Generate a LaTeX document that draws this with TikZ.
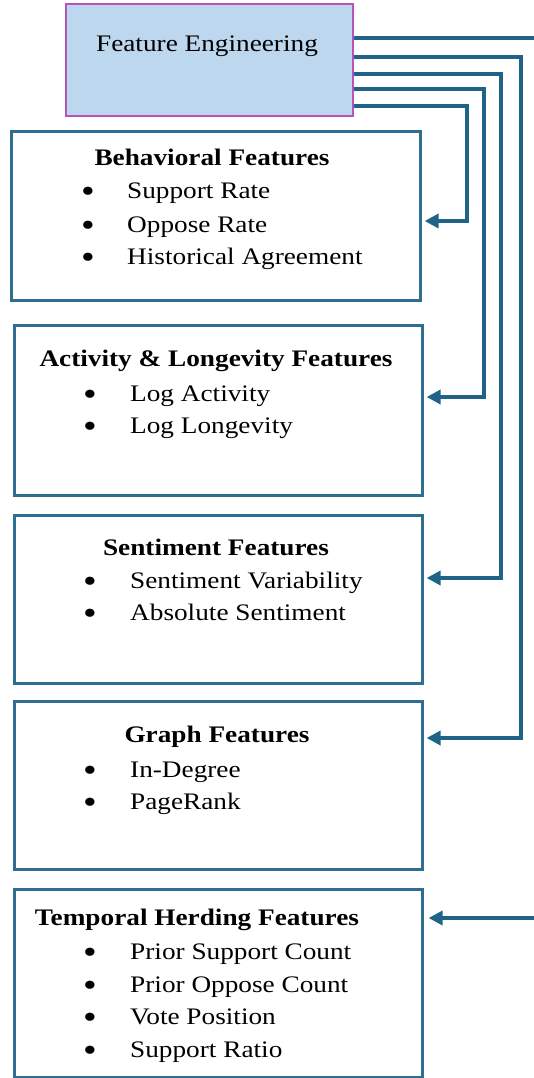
\documentclass[tikz,border=0pt]{standalone}
\usepackage{fontspec}
\setmainfont{Liberation Serif}[FakeStretch=1.15]
\usetikzlibrary{arrows.meta}
\definecolor{lineblue}{RGB}{31,99,136}
\definecolor{boxblue}{RGB}{46,110,145}
\definecolor{feFill}{RGB}{189,215,238}
\definecolor{feDraw}{RGB}{182,84,186}
\tikzset{
  fbox/.style={draw=boxblue, line width=2.6pt, fill=white, anchor=north west, inner sep=0pt},
  febox/.style={draw=feDraw, line width=1.6pt, fill=feFill, anchor=north west, inner sep=0pt, minimum width=287pt, minimum height=112pt},
  txt/.style={inner sep=0pt, font=\fontsize{23.7}{28}\selectfont},
  ttl/.style={txt, font=\fontsize{23.7}{28}\selectfont\bfseries, anchor=base},
  item/.style={txt, anchor=base west},
  bul/.style={inner sep=0pt, font=\fontsize{34}{34}\selectfont, anchor=center, yshift=-5pt},
  conn/.style={draw=lineblue, line width=3.6pt, -{Triangle[length=14pt,width=14pt]}},
}
\begin{document}
\begin{tikzpicture}[x=1pt,y=-1pt]
\useasboundingbox (0,0) rectangle (533,1078);
% Feature Engineering
\node[febox] (fe) at (65,3) {};
\node[txt, anchor=base] (fet) at (207,52) {Feature Engineering};
% boxes
\node[fbox, minimum width=409pt, minimum height=169pt] (beh) at (10,130) {};
\node[fbox, minimum width=408pt, minimum height=170pt] (act) at (13,324) {};
\node[fbox, minimum width=408pt, minimum height=168pt] (sen) at (13,514) {};
\node[fbox, minimum width=408pt, minimum height=168pt] (gra) at (13,700) {};
\node[fbox, minimum width=408pt, minimum height=188pt] (tmp) at (13,888) {};
% Behavioral
\node[ttl] (behT) at (212,166) {Behavioral Features};
\node[bul] (behB1) at (88,190) {\textbullet};
\node[item] (behI1) at (127,198) {Support Rate};
\node[bul] (behB2) at (88,224) {\textbullet};
\node[item] (behI2) at (127,232) {Oppose Rate};
\node[bul] (behB3) at (88,256) {\textbullet};
\node[item] (behI3) at (127,264) {Historical Agreement};
% Activity
\node[ttl] (actT) at (216,366) {Activity \& Longevity Features};
\node[bul] (actB1) at (90,393) {\textbullet};
\node[item] (actI1) at (130,401) {Log Activity};
\node[bul] (actB2) at (90,425) {\textbullet};
\node[item] (actI2) at (130,433) {Log Longevity};
% Sentiment
\node[ttl] (senT) at (216,555) {Sentiment Features};
\node[bul] (senB1) at (90,580) {\textbullet};
\node[item] (senI1) at (130,588) {Sentiment Variability};
\node[bul] (senB2) at (90,612) {\textbullet};
\node[item] (senI2) at (130,620) {Absolute Sentiment};
% Graph
\node[ttl] (graT) at (217,742) {Graph Features};
\node[bul] (graB1) at (90,769) {\textbullet};
\node[item] (graI1) at (130,777) {In-Degree};
\node[bul] (graB2) at (90,801) {\textbullet};
\node[item] (graI2) at (130,809) {PageRank};
% Temporal
\node[ttl] (tmpT) at (197,925) {Temporal Herding Features};
\node[bul] (tmpB1) at (90,951) {\textbullet};
\node[item] (tmpI1) at (130,959) {Prior Support Count};
\node[bul] (tmpB2) at (90,984) {\textbullet};
\node[item] (tmpI2) at (130,992) {Prior Oppose Count};
\node[bul] (tmpB3) at (90,1016) {\textbullet};
\node[item] (tmpI3) at (130,1024) {Vote Position};
\node[bul] (tmpB4) at (90,1049) {\textbullet};
\node[item] (tmpI4) at (130,1057) {Support Ratio};
% connectors
\coordinate (c1a) at (542,38);
\coordinate (c1b) at (542,918);
\draw[conn] (fe.east |- c1a) -- (c1a) -- (c1b) -- ([xshift=5pt]tmp.east |- c1b);
\draw[conn] (fe.east |- 0,57) -- (521,57) -- (521,738) -- ([xshift=3pt]gra.east |- 0,738);
\draw[conn] (fe.east |- 0,74) -- (501,74) -- (501,578) -- ([xshift=3pt]sen.east |- 0,578);
\draw[conn] (fe.east |- 0,89) -- (484,89) -- (484,397) -- ([xshift=3pt]act.east |- 0,397);
\draw[conn] (fe.east |- 0,106) -- (467,106) -- (467,221) -- ([xshift=3pt]beh.east |- 0,221);
\end{tikzpicture}
\end{document}
